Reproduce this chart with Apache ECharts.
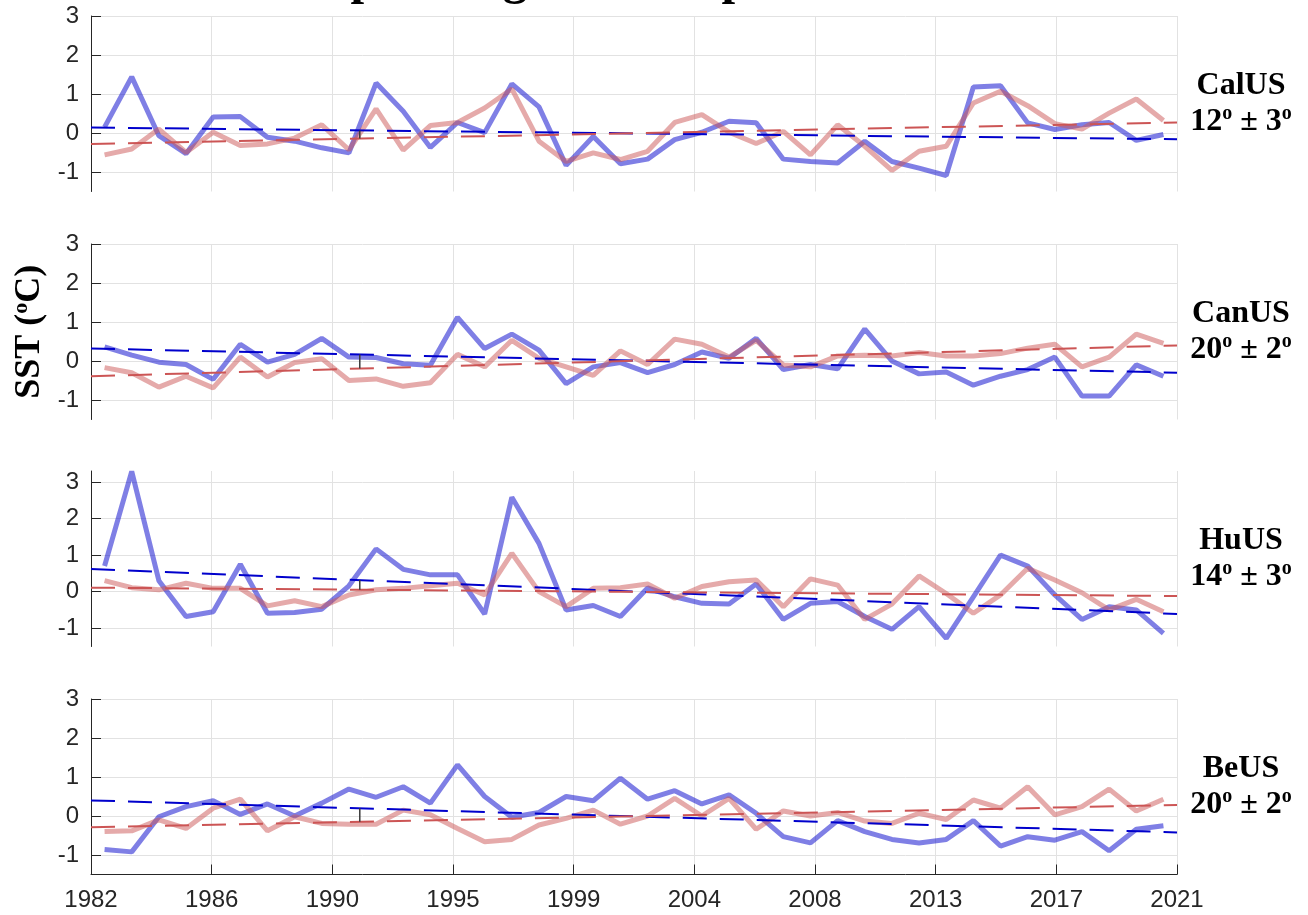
<!DOCTYPE html>
<html>
<head>
<meta charset="utf-8">
<script src="https://cdn.jsdelivr.net/npm/echarts@6/dist/echarts.min.js"></script>
<style>
  html, body { margin: 0; padding: 0; background: #ffffff; }
  #chart { width: 1308px; height: 915px; }
</style>
</head>
<body>
<div id="chart"></div>
<script>
// Annual SST anomalies (ºC) for four upwelling systems, 1982-2021.
const years = [1982, 1983, 1984, 1985, 1986, 1987, 1988, 1989, 1990, 1991,
               1992, 1993, 1994, 1995, 1996, 1997, 1998, 1999, 2000, 2001,
               2002, 2003, 2004, 2005, 2006, 2007, 2008, 2009, 2010, 2011,
               2012, 2013, 2014, 2015, 2016, 2017, 2018, 2019, 2020, 2021];

const tickLabels = ['1982', '1986', '1990', '1995', '1999', '2004', '2008', '2013', '2017', '2021'];
const axisStartYear = 1981.5;
const axisEndYear = 2021.5;

const regionNames = ['CalUS', 'CanUS', 'HuUS', 'BeUS'];
const regionLatitudes = ['12', '20', '14', '20'];
const regionSpreads = ['3', '2', '3', '2'];

// coastal band (blue)
const calusCoastal = [0.15, 1.44, -0.07, -0.53, 0.41, 0.42, -0.11, -0.21, -0.38, -0.51,
                      1.28, 0.56, -0.37, 0.27, 0.01, 1.26, 0.67, -0.83, -0.09, -0.79,
                      -0.67, -0.17, 0.02, 0.30, 0.26, -0.67, -0.73, -0.77, -0.21, -0.73,
                      -0.90, -1.09, 1.18, 1.21, 0.26, 0.09, 0.21, 0.27, -0.19, -0.04];
const canusCoastal = [0.36, 0.15, -0.03, -0.09, -0.47, 0.43, -0.03, 0.17, 0.58, 0.10,
                      0.09, -0.07, -0.11, 1.12, 0.32, 0.69, 0.28, -0.58, -0.15, -0.04,
                      -0.30, -0.09, 0.23, 0.07, 0.58, -0.22, -0.09, -0.20, 0.82, 0.00,
                      -0.33, -0.28, -0.62, -0.39, -0.22, 0.10, -0.90, -0.90, -0.10, -0.39];
const huusCoastal = [0.70, 3.29, 0.30, -0.68, -0.55, 0.75, -0.59, -0.57, -0.48, 0.16,
                     1.17, 0.61, 0.46, 0.46, -0.61, 2.58, 1.32, -0.50, -0.38, -0.68,
                     0.10, -0.14, -0.32, -0.34, 0.21, -0.76, -0.32, -0.27, -0.68, -1.03,
                     -0.41, -1.28, -0.14, 1.00, 0.70, -0.09, -0.76, -0.41, -0.50, -1.14];
const beusCoastal = [-0.86, -0.92, -0.02, 0.24, 0.39, 0.04, 0.31, 0.00, 0.33, 0.69,
                     0.48, 0.75, 0.33, 1.31, 0.50, -0.03, 0.09, 0.50, 0.39, 0.97,
                     0.43, 0.65, 0.31, 0.54, 0.07, -0.53, -0.69, -0.12, -0.40, -0.60,
                     -0.69, -0.60, -0.12, -0.77, -0.53, -0.62, -0.40, -0.89, -0.34, -0.25];

// offshore band (red)
const calusOffshore = [-0.56, -0.41, 0.10, -0.50, 0.02, -0.32, -0.28, -0.13, 0.21, -0.43,
                       0.62, -0.44, 0.19, 0.27, 0.64, 1.13, -0.21, -0.73, -0.51, -0.68,
                       -0.47, 0.27, 0.47, 0.02, -0.27, 0.04, -0.56, 0.21, -0.34, -0.96,
                       -0.47, -0.34, 0.77, 1.07, 0.70, 0.24, 0.10, 0.51, 0.87, 0.32];
const canusOffshore = [-0.17, -0.30, -0.67, -0.39, -0.69, 0.10, -0.41, -0.04, 0.06, -0.50,
                       -0.46, -0.65, -0.56, 0.17, -0.15, 0.53, 0.07, -0.15, -0.37, 0.26,
                       -0.09, 0.56, 0.43, 0.10, 0.53, -0.10, -0.15, 0.13, 0.15, 0.13,
                       0.22, 0.13, 0.13, 0.19, 0.33, 0.43, -0.15, 0.10, 0.69, 0.45];
const huusOffshore = [0.30, 0.11, 0.05, 0.23, 0.09, 0.09, -0.39, -0.25, -0.41, -0.09,
                      0.05, 0.09, 0.16, 0.23, -0.09, 1.05, 0.00, -0.41, 0.09, 0.11,
                      0.21, -0.18, 0.14, 0.27, 0.32, -0.41, 0.35, 0.18, -0.76, -0.34,
                      0.43, -0.05, -0.59, -0.09, 0.64, 0.32, -0.03, -0.50, -0.21, -0.55];
const beusOffshore = [-0.40, -0.38, -0.10, -0.32, 0.20, 0.43, -0.38, -0.02, -0.19, -0.21,
                      -0.21, 0.15, 0.03, -0.32, -0.66, -0.60, -0.23, -0.06, 0.15, -0.21,
                      0.00, 0.45, 0.00, 0.45, -0.34, 0.13, 0.00, 0.09, -0.13, -0.19,
                      0.07, -0.09, 0.41, 0.20, 0.75, 0.03, 0.24, 0.69, 0.13, 0.43];

// linear trends, value at the start and end of the time axis
const coastalTrendStart = [0.14, 0.32, 0.62, 0.40];
const coastalTrendEnd = [-0.16, -0.30, -0.61, -0.42];
const offshoreTrendStart = [-0.28, -0.39, 0.11, -0.29];
const offshoreTrendEnd = [0.27, 0.40, -0.12, 0.28];

// year where the two trends are joined by a short marker
const connectorYear = 1991.4;

const yTickValues = [-1, 0, 1, 2, 3];
const yMins = [-1.5, -1.5, -1.5, -1.5];
const yMaxs = [3, 3, 3.3, 3];

// ---------------------------------------------------------------------------
const coastalSets = [calusCoastal, canusCoastal, huusCoastal, beusCoastal];
const offshoreSets = [calusOffshore, canusOffshore, huusOffshore, beusOffshore];

const BLUE = '#0000cc';
const RED = '#cc5555';
const INK = '#262626';
const GRID = '#e2e2e2';
const SANS = '"Liberation Sans", Arial, Helvetica, sans-serif';
const SERIF = '"Liberation Serif", "Times New Roman", serif';

const gridLeft = 91;
const gridWidth = 1086;
const gridTops = [16, 244, 471, 699];
const gridHeight = 175.5;

const tickStep = (axisEndYear - axisStartYear) / (tickLabels.length - 1);
const xTickValues = tickLabels.map((_, i) => axisStartYear + i * tickStep);

function trendAt(start, end, year) {
  return start + (end - start) * (year - axisStartYear) / (axisEndYear - axisStartYear);
}

const grids = [], xAxes = [], yAxes = [], series = [];

regionNames.forEach((name, k) => {
  const last = k === regionNames.length - 1;
  grids.push({ left: gridLeft, width: gridWidth, top: gridTops[k], height: gridHeight,
               containLabel: false, outerBoundsMode: 'none' });

  xAxes.push({
    gridIndex: k, type: 'value', min: axisStartYear, max: axisEndYear,
    axisLine: { show: last, onZero: false, lineStyle: { color: INK, width: 1 } },
    axisTick: { show: last, inside: true, length: 10, customValues: xTickValues,
                lineStyle: { color: INK, width: 1 } },
    axisLabel: { show: last, customValues: xTickValues, margin: 14, color: INK,
                 fontFamily: SANS, fontSize: 24,
                 formatter: (v) => tickLabels[Math.round((v - axisStartYear) / tickStep)] },
    splitLine: { show: true, lineStyle: { color: GRID, width: 1 } }
  });

  yAxes.push({
    gridIndex: k, type: 'value', min: yMins[k], max: yMaxs[k],
    axisLine: { show: true, onZero: false, lineStyle: { color: INK, width: 1 } },
    axisTick: { show: true, inside: true, length: 10, customValues: yTickValues,
                lineStyle: { color: INK, width: 1 } },
    axisLabel: { show: true, customValues: yTickValues, margin: 12, color: INK,
                 fontFamily: SANS, fontSize: 24 },
    splitLine: { show: true, lineStyle: { color: GRID, width: 1 } }
  });

  const common = { xAxisIndex: k, yAxisIndex: k, type: 'line', showSymbol: false,
                   symbol: 'none', silent: true, animation: false };

  series.push(Object.assign({}, common, {
    name: name + ' coastal',
    data: years.map((y, i) => [y, coastalSets[k][i]]),
    lineStyle: { color: BLUE, width: 5, opacity: 0.5 }, z: 2
  }));
  series.push(Object.assign({}, common, {
    name: name + ' offshore',
    data: years.map((y, i) => [y, offshoreSets[k][i]]),
    lineStyle: { color: RED, width: 5, opacity: 0.5 }, z: 2
  }));
  series.push(Object.assign({}, common, {
    name: name + ' coastal trend',
    data: [[axisStartYear, coastalTrendStart[k]], [axisEndYear, coastalTrendEnd[k]]],
    lineStyle: { color: BLUE, width: 2, type: [24, 13] }, z: 3
  }));
  series.push(Object.assign({}, common, {
    name: name + ' offshore trend',
    data: [[axisStartYear, offshoreTrendStart[k]], [axisEndYear, offshoreTrendEnd[k]]],
    lineStyle: { color: RED, width: 2, type: [24, 13] }, z: 3
  }));
  series.push(Object.assign({}, common, {
    name: name + ' trend gap',
    data: [[connectorYear, trendAt(coastalTrendStart[k], coastalTrendEnd[k], connectorYear)],
           [connectorYear, trendAt(offshoreTrendStart[k], offshoreTrendEnd[k], connectorYear)]],
    lineStyle: { color: '#3a3a3a', width: 1.5 }, z: 4
  }));
});

const boldRich = {
  b: { fontFamily: SERIF, fontWeight: 'bold', fontSize: 32, lineHeight: 36, fill: '#000' },
  s: { fontFamily: SERIF, fontWeight: 'bold', fontSize: 20, verticalAlign: 'top', fill: '#000' }
};

const graphics = [];
regionNames.forEach((name, k) => {
  graphics.push({
    type: 'text', x: 1241, y: gridTops[k] + gridHeight / 2, silent: true,
    style: {
      text: '{b|' + name + '}\n{b|' + regionLatitudes[k] + '}{s|o}{b| ± ' + regionSpreads[k] + '}{s|o}',
      rich: boldRich, align: 'center', verticalAlign: 'middle'
    }
  });
});

graphics.push({
  type: 'text', x: 30, y: gridTops[1] + gridHeight / 2, rotation: Math.PI / 2, silent: true,
  style: {
    text: '{b|SST (}{s|o}{b|C)}',
    rich: {
      b: { fontFamily: SERIF, fontWeight: 'bold', fontSize: 36, lineHeight: 40, fill: '#000' },
      s: { fontFamily: SERIF, fontWeight: 'bold', fontSize: 22, verticalAlign: 'top', fill: '#000' }
    },
    align: 'center', verticalAlign: 'middle'
  }
});

graphics.push({
  type: 'text', x: 315, y: -19, silent: true,
  style: {
    text: 'Upwelling and Temperature',
    fontFamily: SERIF, fontWeight: 'bold', fontSize: 49, fill: '#000',
    align: 'left', verticalAlign: 'middle'
  }
});

const chart = echarts.init(document.getElementById('chart'), null, { renderer: 'canvas' });
chart.setOption({
  backgroundColor: '#ffffff',
  animation: false,
  grid: grids,
  xAxis: xAxes,
  yAxis: yAxes,
  series: series,
  graphic: graphics
});
</script>
</body>
</html>
